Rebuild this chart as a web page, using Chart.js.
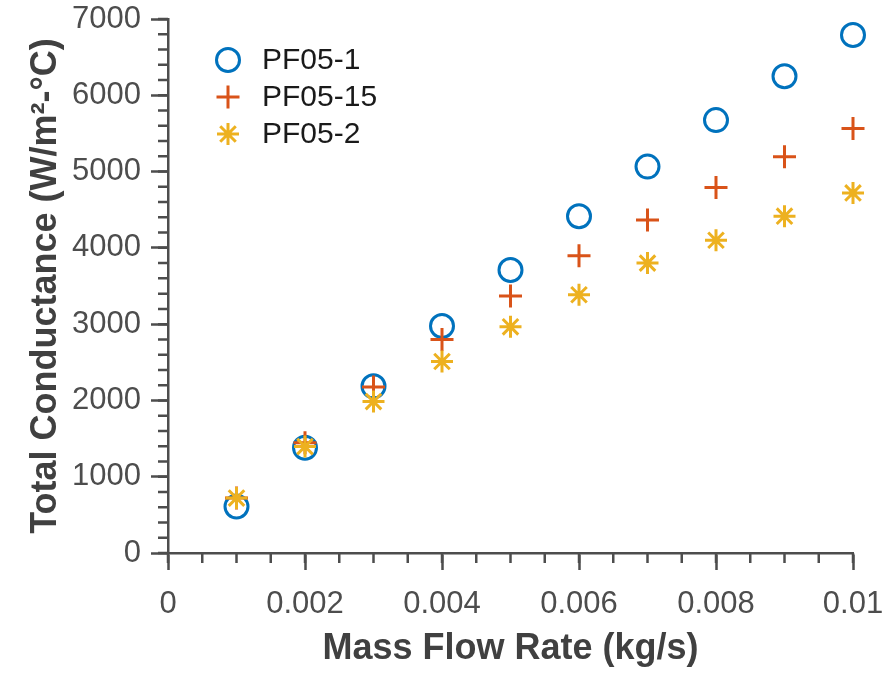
<!DOCTYPE html>
<html>
<head>
<meta charset="utf-8">
<script src="https://cdn.jsdelivr.net/npm/chart.js@4/dist/chart.umd.min.js"></script>
<style>
  html, body { margin: 0; padding: 0; background: #fff; }
  #wrap { width: 888px; height: 675px; }
</style>
</head>
<body>
<div id="wrap"><canvas id="chart" width="888" height="675"></canvas></div>
<script>
// mass flow rate (kg/s)
var flowRates = [0.001, 0.002, 0.003, 0.004, 0.005, 0.006, 0.007, 0.008, 0.009, 0.01];
// total conductance (W/m2-C) per sample
var pf05_1  = [610, 1380, 2185, 2975, 3710, 4415, 5065, 5675, 6250, 6790];
var pf05_15 = [720, 1445, 2175, 2800, 3370, 3895, 4365, 4790, 5195, 5565];
var pf05_2  = [720, 1395, 1985, 2510, 2965, 3385, 3800, 4100, 4415, 4720];

var seriesNames = ['PF05-1', 'PF05-15', 'PF05-2'];
var xTicks = [0, 0.002, 0.004, 0.006, 0.008, 0.01];
var yTicks = [0, 1000, 2000, 3000, 4000, 5000, 6000, 7000];
var xMinorStep = 0.0005;
var yMinorStep = 200;

var axisColor = '#4d4d4d';

function toPoints(ys) {
    return flowRates.map(function (x, i) { return { x: x, y: ys[i] }; });
}

// minor ticks, drawn outward from the axis lines
var minorTicks = {
    id: 'minorTicks',
    afterDraw: function (chart) {
        var ctx = chart.ctx, xs = chart.scales.x, ys = chart.scales.y;
        var area = chart.chartArea;
        ctx.save();
        ctx.strokeStyle = axisColor;
        ctx.lineWidth = 2.5;
        ctx.beginPath();
        for (var i = 0; i * xMinorStep <= xs.max + 1e-9; i++) {
            var px = xs.getPixelForValue(i * xMinorStep);
            ctx.moveTo(px, area.bottom);
            ctx.lineTo(px, area.bottom + 10);
        }
        for (var j = 0; j * yMinorStep <= ys.max; j++) {
            var py = ys.getPixelForValue(j * yMinorStep);
            ctx.moveTo(area.left, py);
            ctx.lineTo(area.left - 10, py);
        }
        ctx.stroke();
        ctx.restore();
    }
};

// legend box in the upper-left of the plot
var insideLegend = {
    id: 'insideLegend',
    afterDraw: function (chart) {
        var ctx = chart.ctx;
        var area = chart.chartArea;
        var x0 = area.left + 60, y0 = area.top + 41, rowH = 37;
        ctx.save();
        ctx.font = '30px "Liberation Sans", Arial, sans-serif';
        ctx.textBaseline = 'middle';
        chart.data.datasets.forEach(function (ds, i) {
            var y = y0 + i * rowH;
            ctx.strokeStyle = ds.borderColor;
            ctx.fillStyle = ds.backgroundColor;
            Chart.helpers.drawPoint(ctx, {
                pointStyle: ds.pointStyle,
                radius: ds.pointRadius,
                borderWidth: ds.borderWidth,
                rotation: 0
            }, x0, y);
            ctx.fillStyle = '#1a1a1a';
            ctx.fillText(ds.label, x0 + 34, y + 1);
        });
        ctx.restore();
    }
};

var datasets = [
    { label: seriesNames[0], data: toPoints(pf05_1), pointStyle: 'circle', pointRadius: 11.5,
      borderColor: '#0072BD', backgroundColor: 'rgba(0,0,0,0)', borderWidth: 3, order: 3, clip: false },
    { label: seriesNames[1], data: toPoints(pf05_15), pointStyle: 'cross', pointRadius: 11.5,
      borderColor: '#D95319', backgroundColor: '#D95319', borderWidth: 3, order: 2, clip: false },
    { label: seriesNames[2], data: toPoints(pf05_2), pointStyle: 'star', pointRadius: 11,
      borderColor: '#EDB120', backgroundColor: '#EDB120', borderWidth: 3, order: 1, clip: false }
];

var tickFont = { family: '"Liberation Sans", Arial, sans-serif', size: 31 };
var titleFont = { family: '"Liberation Sans", Arial, sans-serif', size: 36, weight: 'bold' };

function noPad(s) { s.paddingTop = 0; s.paddingBottom = 0; s.paddingLeft = 0; s.paddingRight = 0; }

new Chart(document.getElementById('chart'), {
    type: 'scatter',
    data: { datasets: datasets },
    plugins: [minorTicks, insideLegend],
    options: {
        responsive: false,
        animation: false,
        layout: { padding: { top: 19, right: 35, left: 0, bottom: 0 } },
        plugins: { legend: { display: false }, tooltip: { enabled: false } },
        elements: { point: { hoverRadius: 11 } },
        scales: {
            x: {
                type: 'linear',
                min: 0, max: 0.01,
                afterBuildTicks: function (s) { s.ticks = xTicks.map(function (v) { return { value: v }; }); },
                afterFit: function (s) { s.height = 122; noPad(s); },
                grid: { drawOnChartArea: false, drawTicks: true, tickLength: 17, tickColor: axisColor, tickWidth: 2.5 },
                border: { display: true, color: axisColor, width: 2.5 },
                ticks: {
                    color: '#4d4d4d', font: tickFont, padding: 16, maxRotation: 0,
                    callback: function (v) { return String(+v.toFixed(4)); }
                },
                title: { display: true, text: 'Mass Flow Rate (kg/s)', color: '#404040', font: titleFont,
                         padding: { top: 0, bottom: 4 } }
            },
            y: {
                type: 'linear',
                min: 0, max: 7000,
                afterBuildTicks: function (s) { s.ticks = yTicks.map(function (v) { return { value: v }; }); },
                afterFit: function (s) { s.width = 168; noPad(s); },
                grid: { drawOnChartArea: false, drawTicks: true, tickLength: 17, tickColor: axisColor, tickWidth: 2.5 },
                border: { display: true, color: axisColor, width: 2.5 },
                ticks: { color: '#4d4d4d', font: tickFont, padding: 10, callback: function (v) { return String(v); } },
                title: { display: true, text: 'Total Conductance (W/m²-°C)', color: '#404040', font: titleFont,
                         padding: { top: 24, bottom: 0 } }
            }
        }
    }
});
</script>
</body>
</html>
